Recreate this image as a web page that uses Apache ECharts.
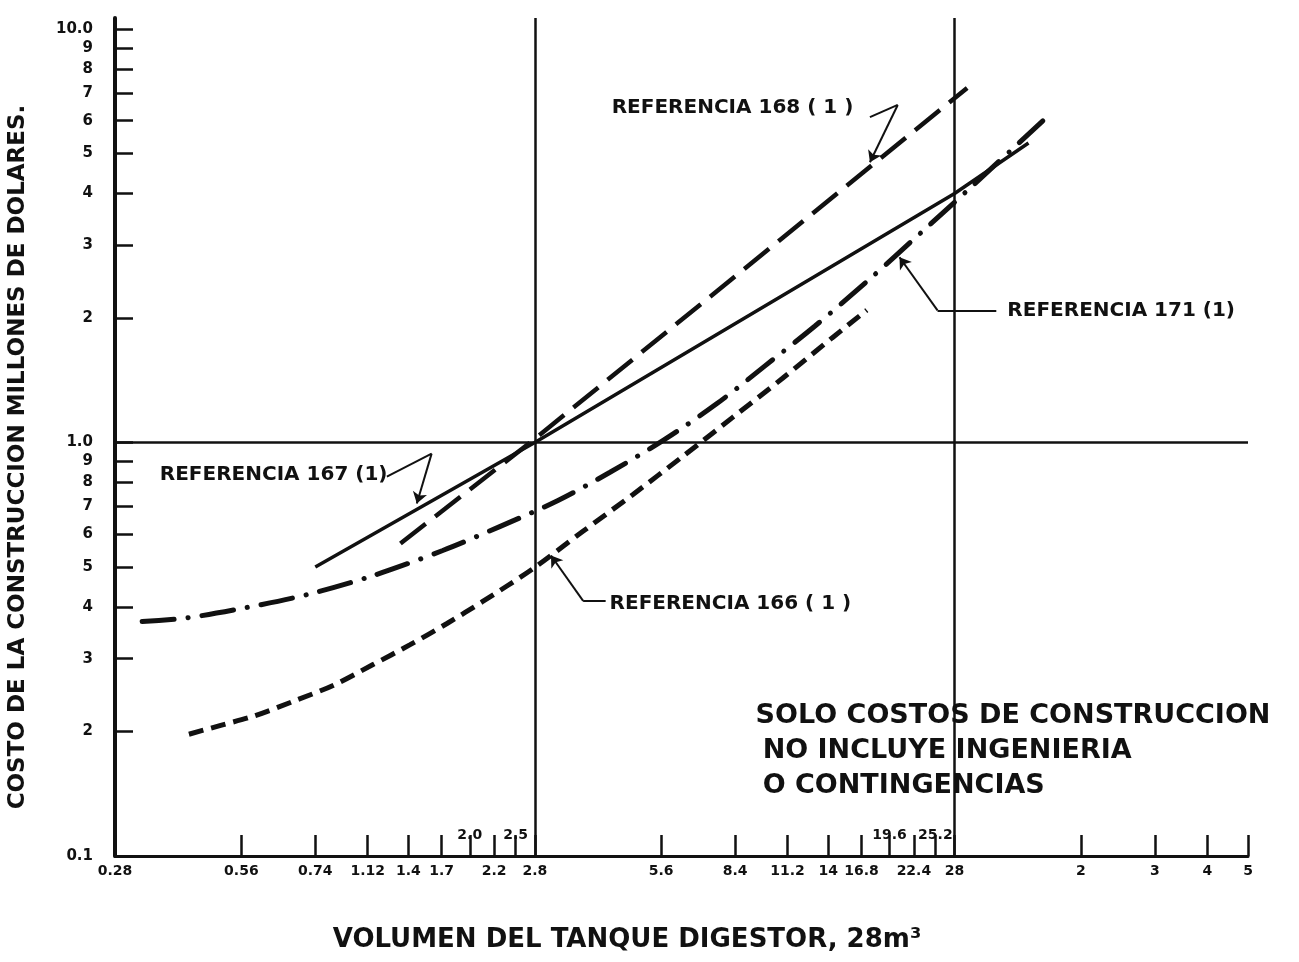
<!DOCTYPE html>
<html>
<head>
<meta charset="utf-8">
<title>Costo de construccion vs volumen del tanque digestor</title>
<script src="https://cdn.jsdelivr.net/npm/echarts@6/dist/echarts.min.js"></script>
<style>
  html, body { margin: 0; padding: 0; background: #fff; }
  #chart { width: 1299px; height: 962px; }
</style>
</head>
<body>
<div id="chart"></div>
<script>
// marcas del eje X (volumen en unidades de 28 m3)
var xBelowValues = [0.28, 0.56, 0.84, 1.12, 1.4, 1.68, 2.24, 2.8, 5.6, 8.4, 11.2, 14, 16.8, 22.4, 28, 56, 84, 112, 140];
var xBelowText   = ['0.28', '0.56', '0.74', '1.12', '1.4', '1.7', '2.2', '2.8', '5.6', '8.4', '11.2', '14', '16.8', '22.4', '28', '2', '3', '4', '5'];
var xAboveValues = [1.96, 2.52, 19.6, 25.2];
var xAboveText   = ['2.0', '2.5', '19.6', '25.2'];

// marcas del eje Y (millones de dolares)
var yTickValues = [0.1, 0.2, 0.3, 0.4, 0.5, 0.6, 0.7, 0.8, 0.9, 1, 2, 3, 4, 5, 6, 7, 8, 9, 10];
var yTickText   = ['0.1', '2', '3', '4', '5', '6', '7', '8', '9', '1.0', '2', '3', '4', '5', '6', '7', '8', '9', '10.0'];

// curvas [volumen, costo]
var ref167 = [[0.84, 0.50], [2.8, 1.0], [28, 4.0], [42, 5.3]];
var ref168 = [[1.34, 0.57], [2.8, 1.02], [30, 7.2]];
var ref171 = [[0.325, 0.369], [0.418, 0.377], [0.577, 0.399], [0.806, 0.429], [1.15, 0.476], [1.69, 0.548],
              [2.31, 0.626], [3.18, 0.724], [4.22, 0.846], [5.65, 1.01], [7.59, 1.24], [9.88, 1.53],
              [13.0, 1.91], [17.3, 2.45], [23.4, 3.23], [29.9, 4.05], [47.9, 6.3]];
var ref166 = [[0.42, 0.197], [0.50, 0.207], [0.60, 0.218], [0.74, 0.236], [0.93, 0.259], [1.15, 0.290],
              [1.41, 0.324], [1.73, 0.365], [2.10, 0.412], [2.77, 0.495], [3.64, 0.609], [4.79, 0.748],
              [6.30, 0.925], [8.29, 1.15], [10.9, 1.43], [14.3, 1.79], [17.3, 2.09]];

// rotulos y flechas (en coordenadas de datos)
var refLabels = [
  [4.27, 6.44, 'REFERENCIA 168 ( 1 )'],
  [0.358, 0.837, 'REFERENCIA 167 (1)'],
  [4.22, 0.408, 'REFERENCIA 166 ( 1 )'],
  [37.4, 2.087, 'REFERENCIA 171 (1)']
];
var noteLines = [
  [9.40, 0.218, 'SOLO COSTOS DE CONSTRUCCION'],
  [9.77, 0.1795, 'NO INCLUYE INGENIERIA'],
  [9.77, 0.1477, 'O CONTINGENCIAS']
];
var leaderSegs = [
  [[17.6, 6.12], [20.5, 6.55]],
  [[1.244, 0.827], [1.59, 0.94]],
  [[4.13, 0.414], [3.65, 0.414]],
  [[35.2, 2.087], [25.5, 2.087]]
];
var arrowSegs = [
  [[20.5, 6.55], [17.6, 4.76]],
  [[1.59, 0.94], [1.466, 0.712]],
  [[3.65, 0.414], [3.06, 0.533]],
  [[25.5, 2.087], [20.7, 2.805]]
];

var FONT = 'DejaVu Sans';
var INK = '#111';

function pick(values, texts) {
  return function (v) {
    for (var i = 0; i < values.length; i++) {
      if (Math.abs(Math.log(v / values[i])) < 0.005) return texts[i];
    }
    return '';
  };
}

function segData(segs) {
  return segs.map(function (s) { return { coords: s }; });
}

var chart = echarts.init(document.getElementById('chart'));

chart.setOption({
  animation: false,
  backgroundColor: '#fff',
  grid: { left: 115, right: 51, top: 18, bottom: 106 },
  xAxis: [{
    type: 'log', logBase: 10, min: 0.28, max: 140,
    axisLine: { lineStyle: { color: INK, width: 3 } },
    axisTick: { inside: true, length: 21, customValues: xBelowValues.concat(xAboveValues),
                lineStyle: { color: INK, width: 2.5 } },
    axisLabel: { customValues: xBelowValues, formatter: pick(xBelowValues, xBelowText), margin: 8,
                 color: INK, fontFamily: FONT, fontWeight: 'bold', fontSize: 14 },
    splitLine: { show: false }
  }, {
    type: 'log', logBase: 10, min: 0.28, max: 140, position: 'bottom',
    axisLine: { show: false }, axisTick: { show: false }, splitLine: { show: false },
    axisLabel: { inside: true, customValues: xAboveValues, formatter: pick(xAboveValues, xAboveText), margin: 14,
                 color: INK, fontFamily: FONT, fontWeight: 'bold', fontSize: 14 }
  }],
  yAxis: {
    type: 'log', logBase: 10, min: 0.1, max: 10.63,
    axisLine: { lineStyle: { color: INK, width: 4 } },
    axisTick: { inside: true, length: 18, customValues: yTickValues, lineStyle: { color: INK, width: 2.5 } },
    axisLabel: { customValues: yTickValues, formatter: pick(yTickValues, yTickText), margin: 22,
                 color: INK, fontFamily: FONT, fontWeight: 'bold', fontSize: 15 },
    splitLine: { show: false }
  },
  graphic: [{
    type: 'text', x: 18, y: 457, rotation: Math.PI / 2,
    style: { text: 'COSTO DE LA CONSTRUCCION MILLONES DE DOLARES.', fill: INK,
             font: 'bold 23px "DejaVu Sans"', textAlign: 'center', textVerticalAlign: 'middle' }
  }, {
    type: 'text', x: 627, y: 940,
    style: { text: 'VOLUMEN DEL TANQUE DIGESTOR, 28m\u00b3', fill: INK,
             font: 'bold 26px "DejaVu Sans"', textAlign: 'center', textVerticalAlign: 'middle' }
  }],
  series: [{
    name: 'Referencia 167', type: 'line', data: ref167, showSymbol: false, silent: true,
    lineStyle: { color: INK, width: 3.5 },
    markLine: {
      silent: true, symbol: 'none', label: { show: false },
      lineStyle: { color: INK, type: 'solid', width: 2.5 },
      data: [{ xAxis: 2.8 }, { xAxis: 28 }, { yAxis: 1 }]
    }
  }, {
    name: 'Referencia 168', type: 'line', data: ref168, showSymbol: false, silent: true,
    lineStyle: { color: INK, width: 4.5, type: [32, 12] }
  }, {
    name: 'Referencia 171', type: 'line', data: ref171, showSymbol: false, silent: true, smooth: 0.3,
    lineStyle: { color: INK, width: 5, type: [32, 14, 0.1, 14], cap: 'round' }
  }, {
    name: 'Referencia 166', type: 'line', data: ref166, showSymbol: false, silent: true, smooth: 0.3,
    lineStyle: { color: INK, width: 5, type: [15, 8] }
  }, {
    type: 'lines', coordinateSystem: 'cartesian2d', silent: true, symbol: 'none',
    lineStyle: { color: INK, width: 2, opacity: 1 },
    data: segData(leaderSegs)
  }, {
    type: 'lines', coordinateSystem: 'cartesian2d', silent: true,
    symbol: ['none', 'arrow'], symbolSize: 11,
    lineStyle: { color: INK, width: 2, opacity: 1 },
    data: segData(arrowSegs)
  }, {
    type: 'scatter', data: refLabels, symbolSize: 0, silent: true, itemStyle: { opacity: 1 },
    label: { show: true, position: 'right', distance: 0, formatter: function (p) { return p.data[2]; },
             color: INK, opacity: 1, fontFamily: FONT, fontWeight: 'bold', fontSize: 20 }
  }, {
    type: 'scatter', data: noteLines, symbolSize: 0, silent: true, itemStyle: { opacity: 1 },
    label: { show: true, position: 'right', distance: 0, formatter: function (p) { return p.data[2]; },
             color: INK, opacity: 1, fontFamily: FONT, fontWeight: 'bold', fontSize: 27 }
  }]
});
</script>
</body>
</html>
